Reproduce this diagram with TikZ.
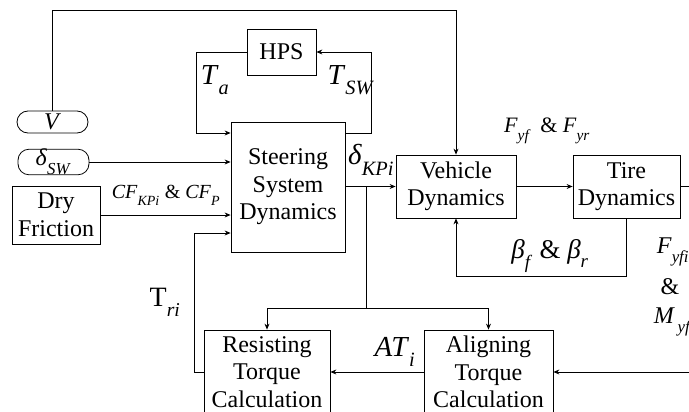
\documentclass[tikz,border=0pt]{standalone}
\usepackage{fontspec}
\setmainfont{Liberation Serif}
\usetikzlibrary{arrows.meta}
\newcommand{\vsym}[2]{\textit{#1}\raisebox{-0.2em}{\textsubscript{\textit{#2}}}}
\begin{document}
\begin{tikzpicture}[x=1pt,y=-1pt,>={Stealth[length=6pt,width=5pt]},line width=0.8pt,
  block/.style={draw,align=center,inner sep=0pt,font=\fontsize{24}{27.5}\selectfont},
  oval/.style={draw,rounded corners=11pt,minimum width=71pt,minimum height=22pt,inner sep=0pt,font=\fontsize{24}{24}\selectfont},
  biglbl/.style={font=\fontsize{29}{30}\selectfont},
  lbl/.style={font=\fontsize{22}{26}\selectfont}]
\useasboundingbox (0,0) rectangle (689,412);

% blocks
\node[block,minimum width=69pt,minimum height=46pt] (hps) at (281.5,52) {HPS};
\node[block,minimum width=114pt,minimum height=130pt] (ssd) at (288,187) {Steering\\System\\Dynamics};
\node[block,minimum width=88pt,minimum height=58pt] (dry) at (56,215) {Dry\\Friction};
\node[block,minimum width=120pt,minimum height=63pt] (veh) at (456,186.5) {Vehicle\\Dynamics};
\node[block,minimum width=107pt,minimum height=63pt] (tire) at (626.5,186.5) {Tire\\Dynamics};
\node[block,minimum width=126pt,minimum height=84pt] (res) at (267,372) {Resisting\\Torque\\Calculation};
\node[block,minimum width=129pt,minimum height=84pt] (ali) at (488.5,372) {Aligning\\Torque\\Calculation};
\node[oval] (v) at (52.5,122) {\textit{V}};
\node[oval] (dsw) at (53.5,162) {\vsym{δ}{SW}};

% free ends and branch points
\coordinate (kp) at (366,186.5);
\coordinate (br) at (366,308);
\coordinate (tout) at (689,186.5);
\coordinate (ain) at (689,372);

% connectors
\draw[->] (hps.west) -| ++(-50,81) -- (ssd.west |- 0,133);
\draw[->] (ssd.east |- 0,133) -- (371,133) |- (hps.east);
\draw[->] (v.north) |- (456,10) -- (veh.north);
\draw[->] (dsw.east) -- (ssd.west |- dsw.east);
\draw[->] (dry.east) -- (ssd.west |- dry.east);
\draw[->] (res.west) -- (194,372) |- (ssd.west |- 0,233);
\draw[->] (ssd.east |- kp) -- (veh.west);
\draw (kp) -- (br);
\draw[->] (br) -| (res.north);
\draw[->] (br) -| (ali.north);
\draw[->] (veh.east) -- (tire.west);
\draw (tire.east) -- (tout);
\draw[->] (tire.south) -- (626.5,276) -| (veh.south);
\draw[->] (ain) -- (ali.east);
\draw[->] (ali.west) -- (res.east);

% labels
\node[biglbl] (lta) at (215,80) {\vsym{T}{a}};
\node[biglbl] (ltsw) at (351,80) {\vsym{T}{SW}};
\node[biglbl] (ldk) at (371,160) {\vsym{δ}{KPi}};
\node[lbl,font=\fontsize{20}{24}\selectfont] (lcf) at (166,195) {\vsym{CF}{KPi} \& \vsym{CF}{P}};
\node[lbl] (lfy) at (547,131) {\vsym{F}{yf}\, \& \vsym{F}{yr}};
\node[lbl,font=\fontsize{27}{28}\selectfont] (lbeta) at (550,256) {\vsym{β}{f} \& \vsym{β}{r}};
\node[biglbl,font=\fontsize{28}{30}\selectfont] (ltr) at (165,302) {T\raisebox{-0.2em}{\textsubscript{\textit{ri}}}};
\node[lbl,font=\fontsize{29}{30}\selectfont] (lat) at (395,352) {\vsym{AT}{i}};
\node[lbl,font=\fontsize{24}{26}\selectfont] (lfyi) at (673,252) {\vsym{F}{yfi}};
\node[lbl,font=\fontsize{24}{26}\selectfont] (lamp) at (670,287) {\&};
\node[lbl,font=\fontsize{24}{26}\selectfont] (lmy) at (673,322) {\vsym{M}{\,yf}};
\end{tikzpicture}
\end{document}
